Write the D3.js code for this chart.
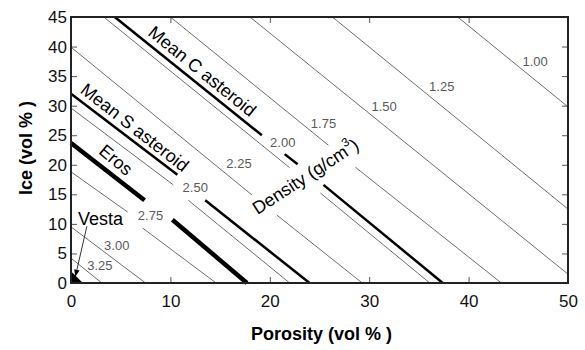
<!DOCTYPE html>
<html>
<head>
<meta charset="utf-8">
<script src="https://cdn.jsdelivr.net/npm/d3@7"></script>
<style>
body { margin: 0; background: #fff; }
svg text { font-family: "Liberation Sans", Arial, sans-serif; }
</style>
</head>
<body>
<script>
// chart size
var width = 585, height = 350;

// axis ticks
var xTicks = [0, 10, 20, 30, 40, 50];
var yTicks = [0, 5, 10, 15, 20, 25, 30, 35, 40, 45];

// density contours, pieces of each line as [porosity, ice] pairs (gaps where labels sit)
var densityLabels = ["1.00", "1.25", "1.50", "1.75", "2.00", "2.25", "2.50", "2.75", "3.00", "3.25"];
var densityPieces = [
  [[[38.9, 45], [50, 29.8]]],
  [[[26.3, 45], [50, 12.5]]],
  [[[18.0, 45], [50, 1.5]]],
  [[[10.0, 45], [25.9, 23.3]], [[28.6, 19.6], [43.3, 0]]],
  [[[3.3, 45], [22.0, 19.5]], [[25.1, 15.2], [36.1, 0]]],
  [[[0, 39.9], [18.2, 14.9]], [[20.7, 11.5], [29.3, 0]]],
  [[[0, 29.6], [10.3, 16.6]], [[11.8, 14.0], [22.0, 0]]],
  [[[0, 18.8], [5.7, 12.0]], [[7.2, 9.3], [14.6, 0]]],
  [[[0, 9.5], [7.5, 0]]],
  [[[0, 4.2], [3.1, 0]]]
];
var densityLabelPos = [[46.7, 37.4], [37.3, 33.2], [31.5, 29.9], [25.4, 26.9], [21.3, 23.7],
                       [16.9, 20.3], [12.5, 16.1], [8.0, 11.5], [4.6, 6.4], [2.9, 3.0]];

// bodies
var bodyNames = ["Mean C asteroid", "Mean S asteroid", "Eros"];
var bodyPieces = [
  [[[4.4, 45], [19.2, 25.0]], [[21.5, 21.8], [22.8, 20.1]], [[25.4, 16.6], [37.4, 0]]],
  [[[0, 32.0], [10.7, 18.3]], [[13.5, 14.0], [24.0, 0]]],
  [[[0, 23.7], [7.4, 14.0]], [[10.2, 10.7], [17.7, 0]]]
];
var bodyLabelPos = [[13.2, 35.8], [6.4, 26.3], [4.5, 20.8]];
var bodyWidths = [2.5, 2.5, 4.5];
var bodyAngles = [39, 38, 40];

// Vesta marker near origin and its pointer
var vestaShape = [[0, 0], [0, 2.0], [1.2, 0]];
var vestaLabelPos = [0.7, 9.8];
var vestaArrow = [[1.6, 9.6], [0.45, 1.2]];

// density caption
var densityTitlePos = [23.6, 18.0];

var margin = {left: 71, right: 17, top: 17, bottom: 67};

var xscale = d3.scaleLinear()
      .domain([0, 50])
      .range([margin.left, width - margin.right]);

var yscale = d3.scaleLinear()
      .domain([0, 45])
      .range([height - margin.bottom, margin.top]);

var svg = d3.select("body")
        .append("svg")
        .attr("width", width)
        .attr("height", height);

var line = d3.line()
      .x(function(d) { return xscale(d[0]); })
      .y(function(d) { return yscale(d[1]); });

// thin density lines
densityPieces.forEach(function(pieces, i) {
  svg.selectAll(".dens" + i)
    .data(pieces)
    .enter()
    .append("path")
    .attr("class", "dens" + i)
    .attr("d", line)
    .attr("fill", "none")
    .attr("stroke", "#6e6e6e")
    .attr("stroke-width", 1);
});

svg.selectAll(".dens-label")
  .data(densityLabels)
  .enter()
  .append("text")
  .attr("class", "dens-label")
  .attr("x", function(d, i) { return xscale(densityLabelPos[i][0]); })
  .attr("y", function(d, i) { return yscale(densityLabelPos[i][1]); })
  .attr("text-anchor", "middle")
  .attr("dominant-baseline", "central")
  .attr("font-size", 13)
  .attr("fill", "#5a5a5a")
  .text(function(d) { return d; });

// thick body lines
bodyPieces.forEach(function(pieces, i) {
  svg.selectAll(".body" + i)
    .data(pieces)
    .enter()
    .append("path")
    .attr("class", "body" + i)
    .attr("d", line)
    .attr("fill", "none")
    .attr("stroke", "#000")
    .attr("stroke-width", bodyWidths[i]);
});

svg.selectAll(".body-label")
  .data(bodyNames)
  .enter()
  .append("text")
  .attr("class", "body-label")
  .attr("text-anchor", "middle")
  .attr("dominant-baseline", "central")
  .attr("font-size", 18)
  .attr("transform", function(d, i) {
    return "translate(" + xscale(bodyLabelPos[i][0]) + "," + yscale(bodyLabelPos[i][1]) + ") rotate(" + bodyAngles[i] + ")";
  })
  .text(function(d) { return d; });

// density caption
var cap = svg.append("text")
  .attr("text-anchor", "middle")
  .attr("dominant-baseline", "central")
  .attr("font-size", 18)
  .attr("transform", "translate(" + xscale(densityTitlePos[0]) + "," + yscale(densityTitlePos[1]) + ") rotate(-33)");
cap.append("tspan").text("Density (g/cm");
cap.append("tspan").attr("font-size", 12).attr("dy", -7).text("3");
cap.append("tspan").attr("dy", 7).text(")");

// Vesta
svg.append("path")
  .datum(vestaShape)
  .attr("d", line.curve(d3.curveLinearClosed))
  .attr("fill", "#000");
line.curve(d3.curveLinear);

svg.append("defs").append("marker")
  .attr("id", "head")
  .attr("viewBox", "0 0 10 10")
  .attr("refX", 9).attr("refY", 5)
  .attr("markerWidth", 7).attr("markerHeight", 7)
  .attr("orient", "auto")
  .append("path")
  .attr("d", "M0,1L10,5L0,9Z")
  .attr("fill", "#000");

svg.append("path")
  .datum(vestaArrow)
  .attr("d", line)
  .attr("stroke", "#333")
  .attr("stroke-width", 1)
  .attr("marker-end", "url(#head)");

svg.append("text")
  .attr("x", xscale(vestaLabelPos[0]))
  .attr("y", yscale(vestaLabelPos[1]))
  .attr("font-size", 18)
  .text("Vesta");

// axes
var xaxis = d3.axisBottom(xscale).tickValues(xTicks).tickSize(-6).tickPadding(12).tickSizeOuter(0);
var xaxisTop = d3.axisTop(xscale).tickValues(xTicks).tickSize(-6).tickFormat("").tickSizeOuter(0);
var yaxis = d3.axisLeft(yscale).tickValues(yTicks).tickSize(-6).tickPadding(4).tickSizeOuter(0);
var yaxisRight = d3.axisRight(yscale).tickValues(yTicks).tickSize(-6).tickFormat("").tickSizeOuter(0);

svg.append("g")
  .attr("transform", "translate(0," + yscale(0) + ")")
  .call(xaxis);
svg.append("g")
  .attr("transform", "translate(0," + yscale(45) + ")")
  .call(xaxisTop);
svg.append("g")
  .attr("transform", "translate(" + xscale(0) + ",0)")
  .call(yaxis);
svg.append("g")
  .attr("transform", "translate(" + xscale(50) + ",0)")
  .call(yaxisRight);

svg.selectAll(".tick text")
  .attr("font-size", 17)
  .attr("font-family", "Liberation Sans, Arial, sans-serif")
  .attr("fill", "#111");
svg.selectAll(".tick line").attr("stroke", "#555");
svg.selectAll(".domain").remove();

// frame
svg.append("rect")
  .attr("x", xscale(0))
  .attr("y", yscale(45))
  .attr("width", xscale(50) - xscale(0))
  .attr("height", yscale(0) - yscale(45))
  .attr("fill", "none")
  .attr("stroke", "#222")
  .attr("stroke-width", 2);

// axis titles
svg.append("text")
  .attr("x", (xscale(0) + xscale(50)) / 2 + 2)
  .attr("y", 340)
  .attr("text-anchor", "middle")
  .attr("font-size", 18)
  .attr("font-weight", "bold")
  .text("Porosity (vol % )");

svg.append("text")
  .attr("transform", "translate(32," + 148 + ") rotate(-90)")
  .attr("text-anchor", "middle")
  .attr("font-size", 18)
  .attr("font-weight", "bold")
  .text("Ice (vol % )");
</script>
</body>
</html>
